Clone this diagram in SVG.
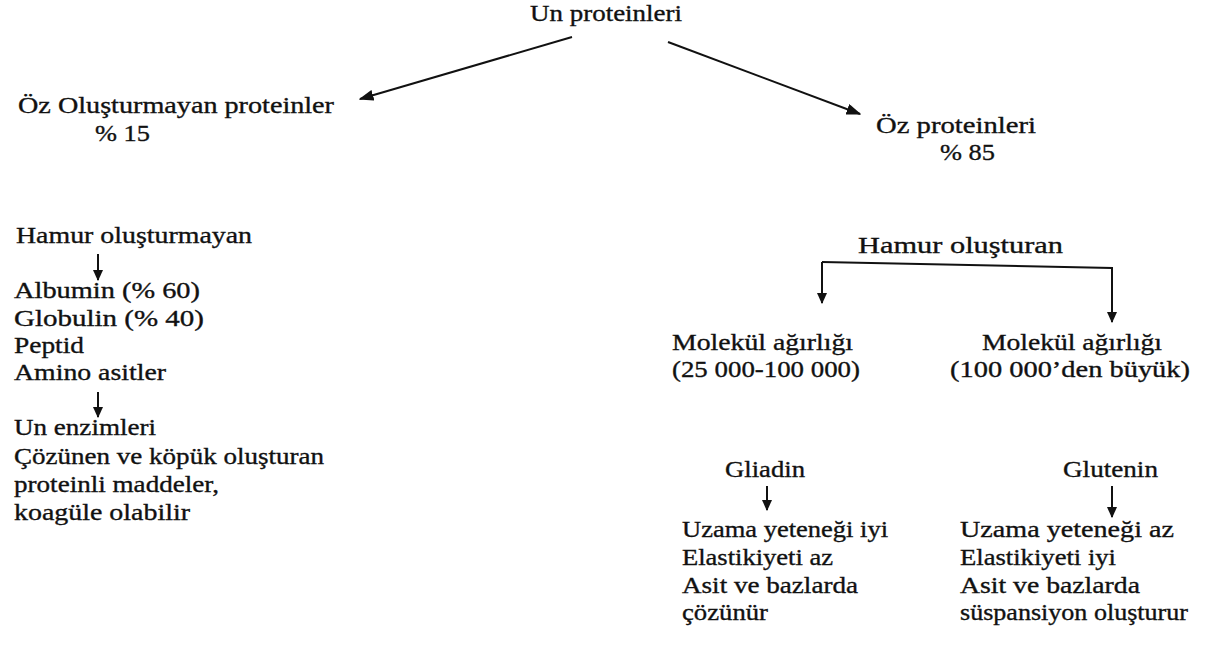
<svg xmlns="http://www.w3.org/2000/svg" width="1205" height="649" viewBox="0 0 1205 649">
<defs>
<style>
text{font-family:"Liberation Serif","Times New Roman","DejaVu Serif",serif;font-size:24px;fill:#111;stroke:#111;stroke-width:0.35;}
.c line,.c polyline{stroke:#111;stroke-width:2;fill:none;}
</style>
<marker id="ah" viewBox="0 0 10 10" refX="9" refY="5" markerWidth="15" markerHeight="11" markerUnits="userSpaceOnUse" orient="auto" preserveAspectRatio="none"><path d="M0,0 L10,5 L0,10 Z" fill="#111"/></marker>
<marker id="ahs" viewBox="0 0 10 10" refX="9" refY="5" markerWidth="11" markerHeight="10" markerUnits="userSpaceOnUse" orient="auto" preserveAspectRatio="none"><path d="M0,0 L10,5 L0,10 Z" fill="#111"/></marker>
</defs>
<rect width="1205" height="649" fill="#fff"/>
<g class="c" id="connectors">
<line x1="572" y1="37" x2="360" y2="99" marker-end="url(#ah)"/>
<line x1="668" y1="42" x2="860" y2="114" marker-end="url(#ah)"/>
<line x1="98" y1="254" x2="98" y2="280" marker-end="url(#ahs)"/>
<line x1="98" y1="392" x2="98" y2="417" marker-end="url(#ahs)"/>
<polyline points="822,262 1112,268 1112,322" marker-end="url(#ahs)"/>
<line x1="822" y1="262" x2="822" y2="303" marker-end="url(#ahs)"/>
<line x1="767" y1="486" x2="767" y2="510" marker-end="url(#ahs)"/>
<line x1="1112" y1="486" x2="1112" y2="517" marker-end="url(#ahs)"/>
</g>
<g id="root"><text x="530" y="21" textLength="152" lengthAdjust="spacingAndGlyphs">Un proteinleri</text></g>
<g id="oz-olusturmayan"><text x="18" y="113" textLength="316" lengthAdjust="spacingAndGlyphs">Öz Oluşturmayan proteinler</text><text x="95" y="141" textLength="55" lengthAdjust="spacingAndGlyphs">% 15</text></g>
<g id="oz-proteinleri"><text x="876" y="133" textLength="160" lengthAdjust="spacingAndGlyphs">Öz proteinleri</text><text x="940" y="160" textLength="55" lengthAdjust="spacingAndGlyphs">% 85</text></g>
<g id="hamur-olusturmayan"><text x="16" y="243" textLength="236" lengthAdjust="spacingAndGlyphs">Hamur oluşturmayan</text></g>
<g id="albumin-list"><text x="14" y="298" textLength="186" lengthAdjust="spacingAndGlyphs">Albumin (% 60)</text><text x="14" y="326" textLength="190" lengthAdjust="spacingAndGlyphs">Globulin (% 40)</text><text x="14" y="353" textLength="70" lengthAdjust="spacingAndGlyphs">Peptid</text><text x="14" y="380" textLength="152" lengthAdjust="spacingAndGlyphs">Amino asitler</text></g>
<g id="un-enzimleri"><text x="14" y="435" textLength="142" lengthAdjust="spacingAndGlyphs">Un enzimleri</text><text x="14" y="464" textLength="310" lengthAdjust="spacingAndGlyphs">Çözünen ve köpük oluşturan</text><text x="14" y="492" textLength="205" lengthAdjust="spacingAndGlyphs">proteinli maddeler,</text><text x="14" y="520" textLength="176" lengthAdjust="spacingAndGlyphs">koagüle olabilir</text></g>
<g id="hamur-olusturan"><text x="858" y="253" textLength="205" lengthAdjust="spacingAndGlyphs">Hamur oluşturan</text></g>
<g id="mol-kucuk"><text x="672" y="350" textLength="181" lengthAdjust="spacingAndGlyphs">Molekül ağırlığı</text><text x="672" y="377" textLength="188" lengthAdjust="spacingAndGlyphs">(25 000-100 000)</text></g>
<g id="mol-buyuk"><text x="982" y="350" textLength="180" lengthAdjust="spacingAndGlyphs">Molekül ağırlığı</text><text x="950" y="377" textLength="240" lengthAdjust="spacingAndGlyphs">(100 000’den büyük)</text></g>
<g id="gliadin"><text x="725" y="477" textLength="80" lengthAdjust="spacingAndGlyphs">Gliadin</text></g>
<g id="gliadin-props"><text x="682" y="537" textLength="206" lengthAdjust="spacingAndGlyphs">Uzama yeteneği iyi</text><text x="682" y="565" textLength="151" lengthAdjust="spacingAndGlyphs">Elastikiyeti az</text><text x="682" y="593" textLength="176" lengthAdjust="spacingAndGlyphs">Asit ve bazlarda</text><text x="682" y="620" textLength="86" lengthAdjust="spacingAndGlyphs">çözünür</text></g>
<g id="glutenin"><text x="1063" y="477" textLength="95" lengthAdjust="spacingAndGlyphs">Glutenin</text></g>
<g id="glutenin-props"><text x="960" y="537" textLength="214" lengthAdjust="spacingAndGlyphs">Uzama yeteneği az</text><text x="960" y="565" textLength="156" lengthAdjust="spacingAndGlyphs">Elastikiyeti iyi</text><text x="960" y="593" textLength="180" lengthAdjust="spacingAndGlyphs">Asit ve bazlarda</text><text x="960" y="620" textLength="228" lengthAdjust="spacingAndGlyphs">süspansiyon oluşturur</text></g>
</svg>
